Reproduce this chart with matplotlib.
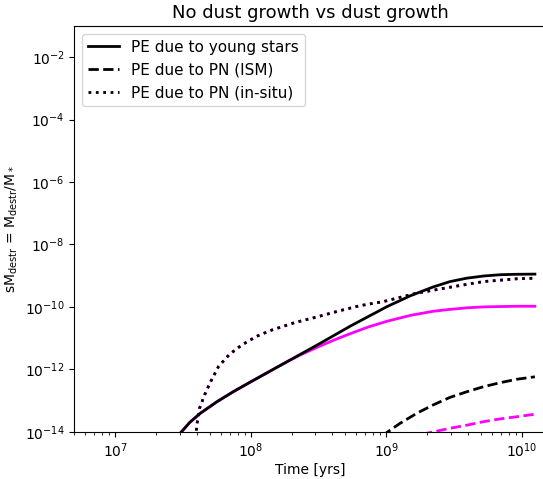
import matplotlib
matplotlib.use('Agg')
import matplotlib.pyplot as plt
from matplotlib.ticker import NullFormatter
import numpy as np

# log10(time [yr]) and log10(sM_destr) for each destruction channel
# no dust growth
lt_young = [7.46, 7.479, 7.55, 7.627, 7.75, 7.87, 7.988, 8.241, 8.487, 8.733, 9.006,
            9.18, 9.347, 9.47, 9.594, 9.72, 9.839, 9.96, 10.097]
ly_young = [-14.2, -14.05, -13.70, -13.41, -13.04, -12.72, -12.43, -11.82, -11.23, -10.62, -9.99,
            -9.64, -9.36, -9.19, -9.08, -9.01, -8.97, -8.955, -8.95]

lt_ism = [8.995, 8.996, 9.102, 9.225, 9.347, 9.470, 9.594, 9.716, 9.839, 9.962, 10.097]
ly_ism = [-14.2, -14.05, -13.73, -13.41, -13.14, -12.90, -12.72, -12.56, -12.43, -12.32, -12.24]

lt_insitu = [7.596, 7.597, 7.602, 7.622, 7.659, 7.701, 7.762, 7.843, 7.934, 8.040, 8.143, 8.327,
             8.499, 8.659, 8.807, 8.979, 9.225, 9.470, 9.716, 9.962, 10.097]
ly_insitu = [-14.2, -14.03, -13.78, -13.25, -12.82, -12.42, -11.91, -11.52, -11.22, -10.95, -10.76, -10.50,
             -10.31, -10.12, -9.96, -9.83, -9.56, -9.37, -9.19, -9.10, -9.08]

# with dust growth
lt_young_g = [7.46, 7.479, 7.55, 7.627, 7.75, 7.87, 7.988, 8.241, 8.36, 8.487, 8.61, 8.733, 8.87,
              9.006, 9.18, 9.347, 9.47, 9.594, 9.72, 9.96, 10.097]
ly_young_g = [-14.2, -14.05, -13.70, -13.41, -13.04, -12.72, -12.43, -11.82, -11.55, -11.30, -11.07, -10.86, -10.64,
              -10.46, -10.27, -10.14, -10.08, -10.03, -10.00, -9.98, -9.98]

lt_ism_g = [9.29, 9.299, 9.470, 9.594, 9.716, 9.839, 9.962, 10.097]
ly_ism_g = [-14.2, -14.05, -13.89, -13.79, -13.68, -13.59, -13.52, -13.44]


def tolin(lt, ly):
    return 10 ** np.array(lt), 10 ** np.array(ly)


fig = plt.figure(figsize=(5.43, 4.79), dpi=100)
ax = fig.add_axes([0.1372, 0.0987, 0.8676, 0.847])

# dust growth (magenta) underneath, no growth (black) on top
ax.plot(*tolin(lt_young_g, ly_young_g), color='magenta', lw=2)
ax.plot(*tolin(lt_ism_g, ly_ism_g), color='magenta', lw=2, ls='--')
ax.plot(*tolin(lt_insitu, ly_insitu), color='magenta', lw=2, ls=':')

ax.plot(*tolin(lt_young, ly_young), color='k', lw=2, label='PE due to young stars')
ax.plot(*tolin(lt_ism, ly_ism), color='k', lw=2, ls='--', label='PE due to PN (ISM)')
ax.plot(*tolin(lt_insitu, ly_insitu), color='k', lw=2, ls=':', label='PE due to PN (in-situ)')

ax.set_xscale('log')
ax.set_yscale('log')
ax.set_xlim(5e6, 1.5e10)
ax.set_ylim(1e-14, 1e-1)
ax.xaxis.set_minor_formatter(NullFormatter())
ax.yaxis.set_minor_formatter(NullFormatter())
ax.spines['right'].set_visible(False)

ax.set_xlabel('Time [yrs]', labelpad=2)
ax.set_ylabel(r'sM$_{\rm destr}$ = M$_{\rm destr}$/M$_*$')
ax.set_title('No dust growth vs dust growth', fontsize=13)
ax.legend(loc='upper left', fontsize=11)

fig.savefig('out.png', dpi=100)
